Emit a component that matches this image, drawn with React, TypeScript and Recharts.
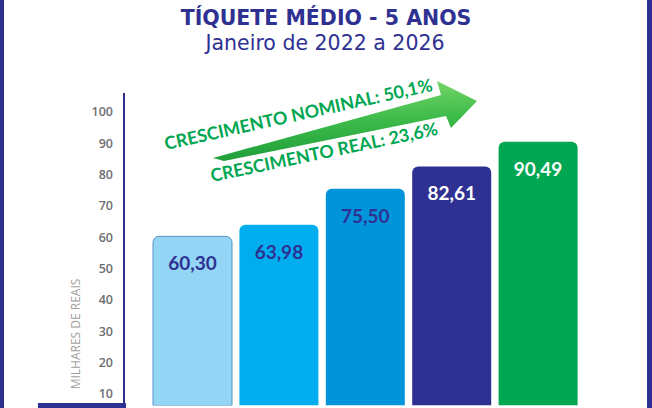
import React from 'react';
import { BarChart, Bar, XAxis, YAxis, Cell, LabelList } from 'recharts';

// Ticket médio por ano (milhares de reais)
const years = ['2022', '2023', '2024', '2025', '2026'];
const values = [60.3, 63.98, 75.5, 82.61, 90.49];
const yTicks = [10, 20, 30, 40, 50, 60, 70, 80, 90, 100];

const barColors = ['#92d5f5', '#00aeef', '#0095da', '#2e3192', '#00a651'];
const labelColors = ['#2e3192', '#2e3192', '#2e3192', '#ffffff', '#ffffff'];
const NAVY = '#2e3192';

const data = years.map((year, i) => ({ year, value: values[i] }));

const fmt = (v: number) => v.toFixed(2).replace('.', ',');

const BarValue = (props: any) => {
  const { x, y, width, index, value } = props;
  return (
    <text
      x={Number(x) + Number(width) / 2}
      y={Number(y) + 34}
      textAnchor="middle"
      fill={labelColors[index]}
      fontFamily="Lato, 'Open Sans', sans-serif"
      fontWeight={700}
      fontSize={19}
    >
      {fmt(Number(value))}
    </text>
  );
};

const App: React.FC = () => {
  return (
    <div
      style={{
        position: 'absolute',
        left: 0,
        top: 0,
        width: 652,
        height: 408,
        background: '#fff',
        overflow: 'hidden',
      }}
    >
      <BarChart
        width={652}
        height={408}
        data={data}
        margin={{ top: 93, right: 42, left: 64, bottom: 2.5 }}
      >
        <XAxis
          dataKey="year"
          height={0}
          tick={false}
          tickLine={false}
          axisLine={{ stroke: NAVY, strokeWidth: 5 }}
          padding={{ left: 25, right: 29 }}
        />
        <YAxis
          width={60}
          domain={[6.33, 106.06]}
          ticks={yTicks}
          allowDataOverflow
          tickLine={false}
          tickSize={0}
          tickMargin={11}
          axisLine={{ stroke: NAVY, strokeWidth: 2 }}
          tick={{ fill: '#6d6e71', fontSize: 12.5, fontWeight: 600, fontFamily: "'Open Sans', sans-serif" }}
        />
        <Bar dataKey="value" barSize={79} radius={[6, 6, 0, 0]} isAnimationActive={false}>
          {data.map((d, i) => (
            <Cell
              key={d.year}
              fill={barColors[i]}
              stroke={i === 0 ? '#5d8fc5' : 'none'}
              strokeWidth={i === 0 ? 1 : 0}
            />
          ))}
          <LabelList dataKey="value" content={BarValue} />
        </Bar>
      </BarChart>

      {/* moldura e extensão do eixo */}
      <div style={{ position: 'absolute', left: 0, top: 0, width: 4, height: 408, background: NAVY }} />
      <div style={{ position: 'absolute', left: 647, top: 0, width: 5, height: 408, background: NAVY }} />
      <div style={{ position: 'absolute', left: 38, top: 403, width: 88, height: 5, background: NAVY }} />

      <svg
        width={652}
        height={408}
        style={{ position: 'absolute', left: 0, top: 0, pointerEvents: 'none' }}
      >
        <defs>
          <linearGradient id="arrowGrad" x1="0" y1="0" x2="0.12" y2="1">
            <stop offset="0%" stopColor="#7fda6c" />
            <stop offset="55%" stopColor="#3dbb4a" />
            <stop offset="100%" stopColor="#1f9e3a" />
          </linearGradient>
        </defs>
        <text
          x={326}
          y={24.5}
          textAnchor="middle"
          fill={NAVY}
          fontFamily="'DejaVu Sans', Verdana, sans-serif"
          fontWeight={700}
          fontSize={20.5}
        >
          TÍQUETE MÉDIO - 5 ANOS
        </text>
        <text
          x={325}
          y={50}
          textAnchor="middle"
          fill={NAVY}
          fontFamily="'DejaVu Sans', Verdana, sans-serif"
          fontSize={20.5}
        >
          Janeiro de 2022 a 2026
        </text>

        <polygon
          points="213,158 441,95 437,81 477,101 451,128 446,116 224,161"
          fill="url(#arrowGrad)"
        />
        <text
          x={166}
          y={150}
          transform="rotate(-12.5 166 150)"
          fill="#00a651"
          fontFamily="Lato, 'Open Sans', sans-serif"
          fontWeight={700}
          fontSize={17.8}
        >
          CRESCIMENTO NOMINAL: 50,1%
        </text>
        <text
          x={212}
          y={182}
          transform="rotate(-11.8 212 182)"
          fill="#00a651"
          fontFamily="Lato, 'Open Sans', sans-serif"
          fontWeight={700}
          fontSize={17.8}
        >
          CRESCIMENTO REAL: 23,6%
        </text>

        <text
          x={75}
          y={334}
          transform="rotate(-90 75 334)"
          textAnchor="middle"
          dominantBaseline="central"
          fill="#a0a0a0"
          fontFamily="'Open Sans', sans-serif"
          fontSize={12}
        >
          MILHARES DE REAIS
        </text>
      </svg>
    </div>
  );
};

export default App;
